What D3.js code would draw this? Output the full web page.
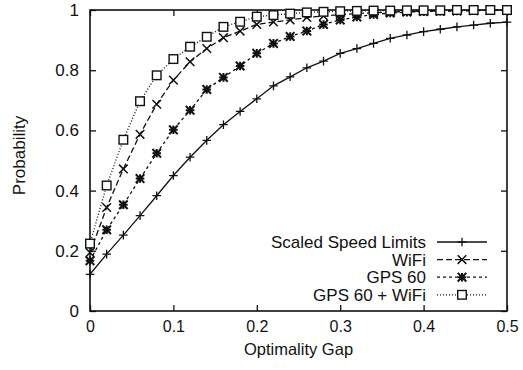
<!DOCTYPE html>
<html>
<head>
<meta charset="utf-8">
<script src="https://cdn.jsdelivr.net/npm/d3@7"></script>
<style>
  html, body { margin: 0; padding: 0; background: #fff; }
  svg text { font-family: "Liberation Sans", Arial, Helvetica, sans-serif; fill: #111; }
</style>
</head>
<body>
<div id="chart"></div>
<script>
// optimality gap samples (0 .. 0.5 step 0.02)
const gaps = [0, 0.02, 0.04, 0.06, 0.08, 0.1, 0.12, 0.14, 0.16, 0.18, 0.2, 0.22, 0.24,
  0.26, 0.28, 0.3, 0.32, 0.34, 0.36, 0.38, 0.4, 0.42, 0.44, 0.46, 0.48, 0.5];

const scaledSpeed = [0.122, 0.189, 0.252, 0.317, 0.383, 0.45, 0.511, 0.567, 0.619, 0.663, 0.705,
  0.748, 0.778, 0.808, 0.83, 0.856, 0.872, 0.889, 0.906, 0.917, 0.928, 0.936, 0.944, 0.95, 0.956, 0.96];
const wifi = [0.194, 0.344, 0.472, 0.587, 0.687, 0.767, 0.828, 0.872, 0.908, 0.93, 0.952,
  0.96, 0.967, 0.975, 0.98, 0.985, 0.988, 0.991, 0.993, 0.995, 0.996, 0.997, 0.998, 0.998, 0.999, 0.999];
const gps60 = [0.167, 0.27, 0.353, 0.44, 0.524, 0.602, 0.667, 0.736, 0.776, 0.814, 0.856,
  0.889, 0.912, 0.93, 0.952, 0.967, 0.977, 0.985, 0.99, 0.993, 0.995, 0.996, 0.997, 0.998, 0.999, 0.999];
const gps60Wifi = [0.224, 0.417, 0.569, 0.697, 0.783, 0.837, 0.878, 0.911, 0.944, 0.961, 0.978,
  0.983, 0.988, 0.992, 0.994, 0.996, 0.997, 0.998, 0.998, 0.999, 0.999, 0.999, 1, 1, 1, 1];

const xTicks = [0, 0.1, 0.2, 0.3, 0.4, 0.5];
const yTicks = [0, 0.2, 0.4, 0.6, 0.8, 1];

const series = [
  { name: 'Scaled Speed Limits', values: scaledSpeed, dash: null, marker: 'plus' },
  { name: 'WiFi', values: wifi, dash: '6,3', marker: 'cross' },
  { name: 'GPS 60', values: gps60, dash: '3,3', marker: 'star' },
  { name: 'GPS 60 + WiFi', values: gps60Wifi, dash: '1,2', marker: 'square' }
];

const width = 523, height = 370;
const margin = { top: 10, right: 16, bottom: 59, left: 90 };
const w = width - margin.left - margin.right;
const h = height - margin.top - margin.bottom;
const fontSize = '17px';

const svg = d3.select('#chart').append('svg')
  .attr('width', width)
  .attr('height', height);

const g = svg.append('g').attr('transform', `translate(${margin.left},${margin.top})`);

const x = d3.scaleLinear().domain([0, 0.5]).range([0, w]);
const y = d3.scaleLinear().domain([0, 1]).range([h, 0]);

// axes with inward ticks, mirrored on top / right (gnuplot look)
const tickLen = 6;
g.append('g').attr('class', 'xaxis').attr('transform', `translate(0,${h})`)
  .call(d3.axisBottom(x).tickValues(xTicks).tickSize(-tickLen).tickPadding(10).tickFormat(d3.format('')))
  .call(a => a.select('.domain').remove());
g.append('g')
  .call(d3.axisLeft(y).tickValues(yTicks).tickSize(-tickLen).tickPadding(11).tickFormat(d3.format('')))
  .call(a => a.select('.domain').remove());
g.append('g')
  .call(d3.axisTop(x).tickValues(xTicks).tickSize(-tickLen).tickFormat(''))
  .call(a => a.select('.domain').remove());
g.append('g').attr('transform', `translate(${w},0)`)
  .call(d3.axisRight(y).tickValues(yTicks).tickSize(-tickLen).tickFormat(''))
  .call(a => a.select('.domain').remove());

g.selectAll('.tick line').attr('stroke', '#111').attr('stroke-width', 1.3);
g.selectAll('.tick text').style('font-size', fontSize);
g.selectAll('.xaxis .tick text').style('font-size', '16px');

g.append('rect')
  .attr('width', w).attr('height', h)
  .attr('fill', 'none').attr('stroke', '#111').attr('stroke-width', 1.6);

svg.append('text')
  .attr('x', margin.left + w / 2)
  .attr('y', 355)
  .attr('text-anchor', 'middle')
  .style('font-size', '16.5px')
  .text('Optimality Gap');

svg.append('text')
  .attr('transform', `translate(25,${margin.top + h / 2 - 5}) rotate(-90)`)
  .attr('text-anchor', 'middle')
  .style('font-size', fontSize)
  .text('Probability');

function drawMarker(sel, type) {
  const s = 4.3;
  if (type === 'plus') {
    sel.append('path').attr('d', `M${-s},0H${s}M0,${-s}V${s}`)
      .attr('stroke', '#111').attr('stroke-width', 1.3).attr('fill', 'none');
  } else if (type === 'cross') {
    sel.append('path').attr('d', `M${-s},${-s}L${s},${s}M${-s},${s}L${s},${-s}`)
      .attr('stroke', '#111').attr('stroke-width', 1.5).attr('fill', 'none');
  } else if (type === 'star') {
    sel.append('path').attr('d', `M${-s},0H${s}M0,${-s}V${s}M${-s},${-s}L${s},${s}M${-s},${s}L${s},${-s}`)
      .attr('stroke', '#111').attr('stroke-width', 2).attr('fill', 'none');
  } else {
    sel.append('rect').attr('x', -s).attr('y', -s).attr('width', 2 * s).attr('height', 2 * s)
      .attr('stroke', '#111').attr('stroke-width', 1.4).attr('fill', '#fff');
  }
}

const line = d3.line().x(d => x(d[0])).y(d => y(d[1]));

series.forEach(s => {
  const pts = gaps.map((gp, i) => [gp, s.values[i]]);
  g.append('path')
    .datum(pts)
    .attr('d', line)
    .attr('fill', 'none')
    .attr('stroke', '#111')
    .attr('stroke-width', 1.3)
    .attr('stroke-dasharray', s.dash);
  g.append('g').selectAll('g')
    .data(pts)
    .enter().append('g')
    .attr('transform', d => `translate(${x(d[0])},${y(d[1])})`)
    .each(function () { drawMarker(d3.select(this), s.marker); });
});

// legend
const legend = svg.append('g').attr('transform', 'translate(426,242)');
series.forEach((s, i) => {
  const row = legend.append('g').attr('transform', `translate(0,${i * 17.6})`);
  row.append('text')
    .attr('x', 0).attr('y', 6)
    .attr('text-anchor', 'end')
    .style('font-size', fontSize)
    .text(s.name);
  row.append('path')
    .attr('d', 'M11,0H61')
    .attr('stroke', '#111').attr('stroke-width', 1.3)
    .attr('stroke-dasharray', s.dash);
  drawMarker(row.append('g').attr('transform', 'translate(36,0)'), s.marker);
});
</script>
</body>
</html>
